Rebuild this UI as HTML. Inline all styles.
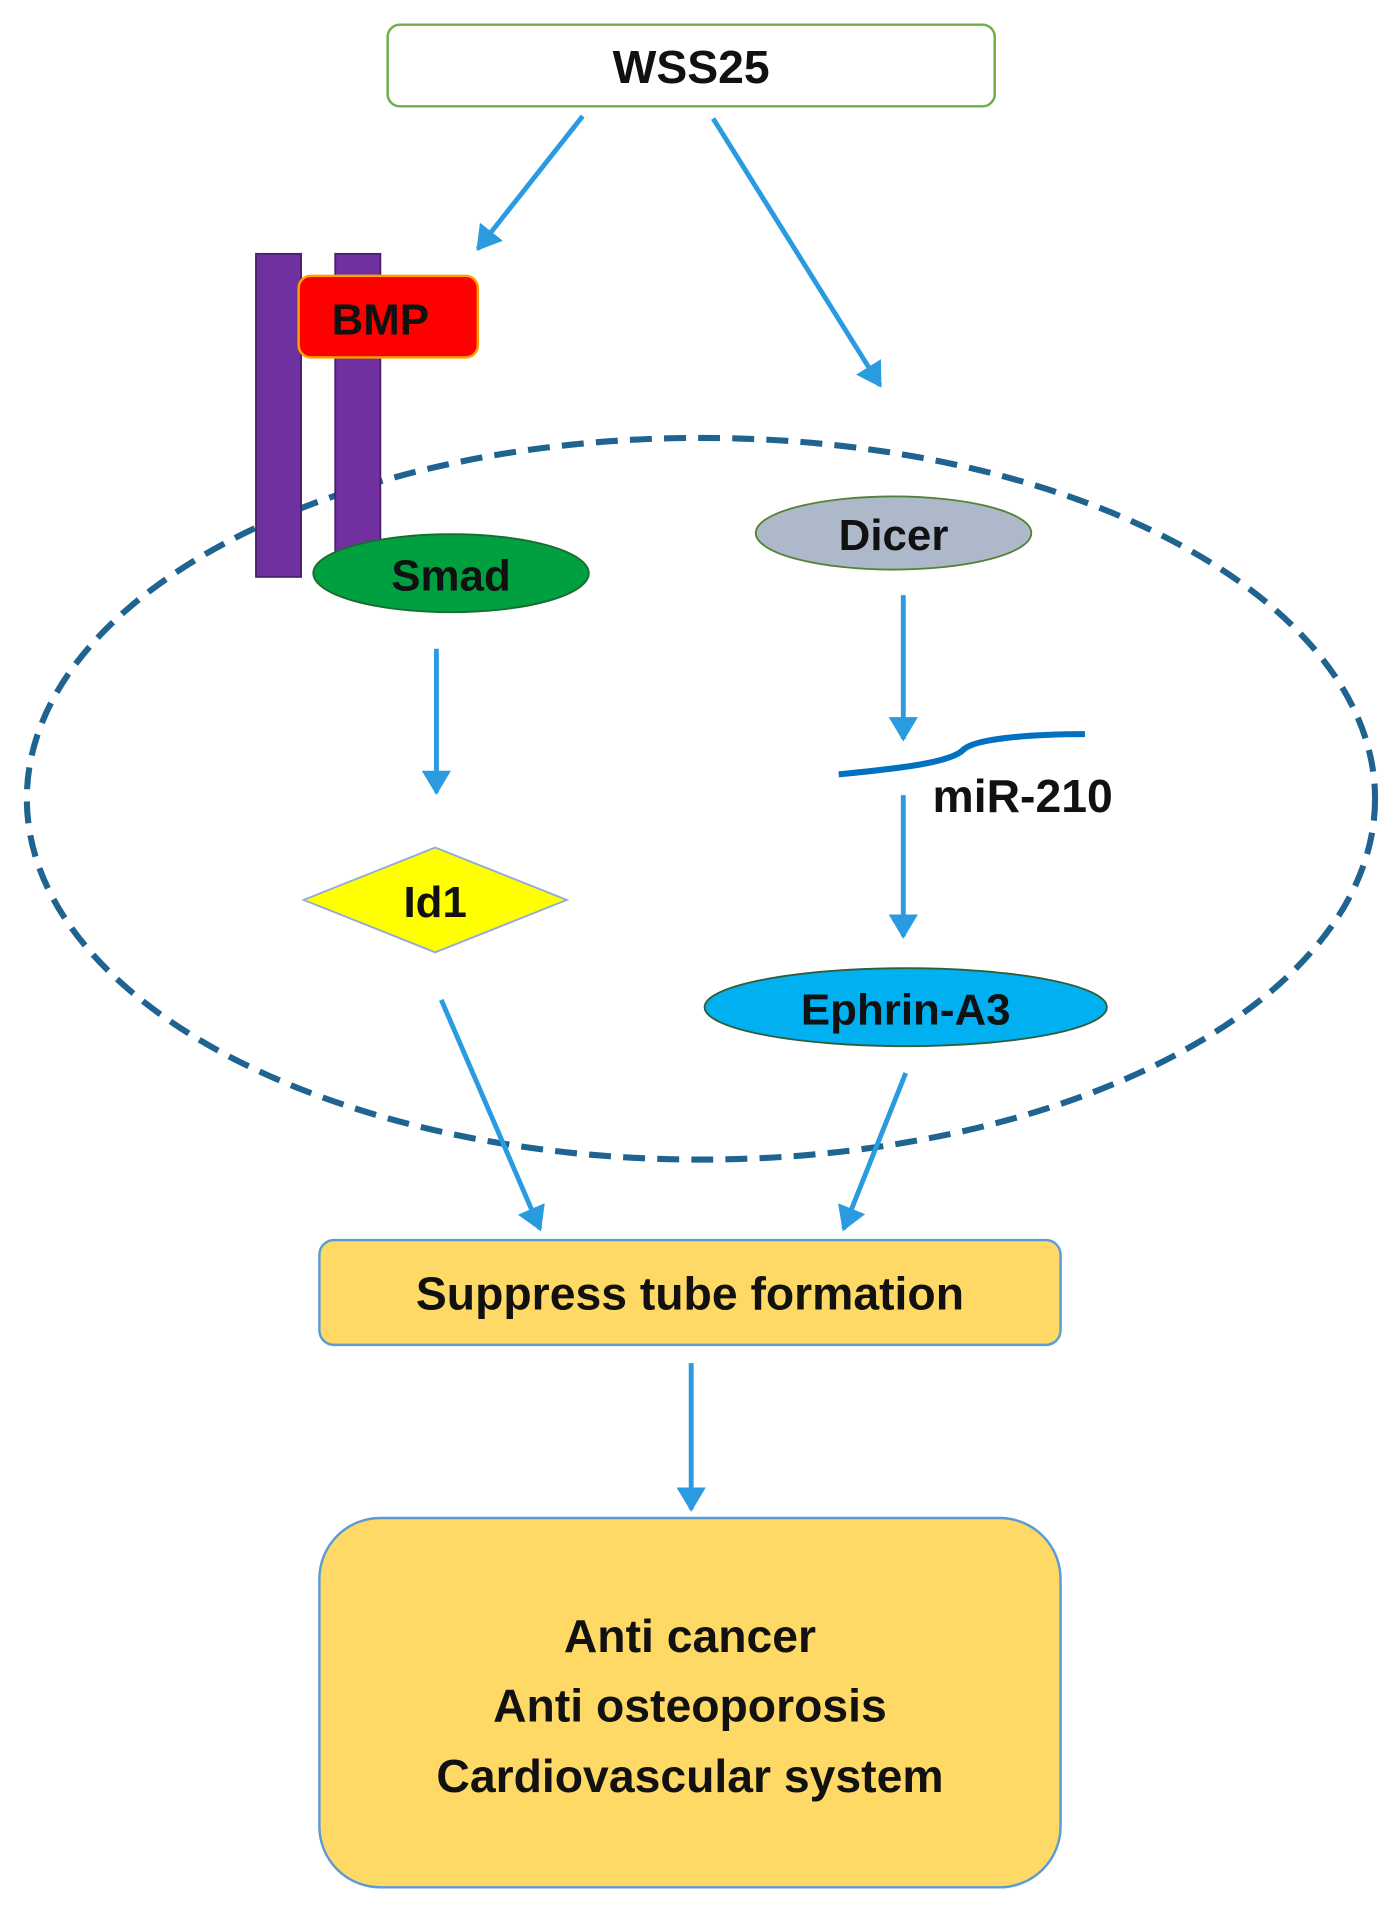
<!DOCTYPE html>
<html><head><meta charset="utf-8"><style>
html,body{margin:0;padding:0;background:#fff;}
svg{display:block;}
text{font-family:"Liberation Sans",sans-serif;font-weight:bold;fill:#111;}
</style></head><body>
<svg width="1397" height="1912" viewBox="0 0 1146 1568" xmlns="http://www.w3.org/2000/svg">
<defs>
<marker id="a" markerWidth="6" markerHeight="6" refX="4.5" refY="3" orient="auto" markerUnits="strokeWidth">
<path d="M0,0 L5,3 L0,6 Z" fill="#2a9be0"/>
</marker>
</defs>
<ellipse cx="575" cy="655" rx="553" ry="296" fill="none" stroke="#1f6391" stroke-width="5" stroke-dasharray="18 10"/>
<g stroke="#2a9be0" stroke-width="4" fill="none" marker-end="url(#a)">
<line x1="478" y1="95" x2="392" y2="204"/>
<line x1="585" y1="97" x2="722" y2="316"/>
<line x1="358" y1="532" x2="358" y2="650"/>
<line x1="741" y1="488" x2="741" y2="606"/>
<line x1="741" y1="652" x2="741" y2="768"/>
<line x1="362" y1="820" x2="443" y2="1008"/>
<line x1="743" y1="880" x2="692" y2="1008"/>
<line x1="567" y1="1118" x2="567" y2="1238"/>
</g>
<rect x="318" y="20" width="498" height="67" rx="10" fill="#fff" stroke="#70ad47" stroke-width="2"/>
<text x="567" y="68" font-size="38" text-anchor="middle">WSS25</text>
<rect x="210" y="208" width="37" height="265" fill="#7030a0" stroke="#4a1f6e" stroke-width="1.5"/>
<rect x="275" y="208" width="37" height="250" fill="#7030a0" stroke="#4a1f6e" stroke-width="1.5"/>
<rect x="245" y="226" width="147" height="67" rx="10" fill="#ff0000" stroke="#ffa000" stroke-width="2"/>
<text x="312" y="274" font-size="36" text-anchor="middle">BMP</text>
<ellipse cx="370" cy="470" rx="113" ry="32" fill="#00a040" stroke="#1a6b30" stroke-width="1.5"/>
<text x="370" y="484" font-size="36" text-anchor="middle">Smad</text>
<ellipse cx="733" cy="437" rx="113" ry="30" fill="#adb9ca" stroke="#548235" stroke-width="1.5"/>
<text x="733" y="451" font-size="36" text-anchor="middle">Dicer</text>
<polygon points="249,738 357,695 465,738 357,781" fill="#ffff00" stroke="#8faadc" stroke-width="1.5"/>
<text x="357" y="752" font-size="36" text-anchor="middle">Id1</text>
<path d="M688,635 C740,630 780,625 790,615 C800,605 850,602 890,602" fill="none" stroke="#0070c0" stroke-width="5"/>
<text x="765" y="666" font-size="38">miR-210</text>
<ellipse cx="743" cy="826" rx="165" ry="32" fill="#00b0f0" stroke="#2e5e3a" stroke-width="1.5"/>
<text x="743" y="840" font-size="36" text-anchor="middle">Ephrin-A3</text>
<rect x="262" y="1017" width="608" height="86" rx="12" fill="#ffd966" stroke="#5b9bd5" stroke-width="2"/>
<text x="566" y="1074" font-size="38" text-anchor="middle">Suppress tube formation</text>
<rect x="262" y="1245" width="608" height="303" rx="50" fill="#ffd966" stroke="#5b9bd5" stroke-width="2"/>
<text x="566" y="1355" font-size="38" text-anchor="middle">Anti cancer</text>
<text x="566" y="1412" font-size="38" text-anchor="middle">Anti osteoporosis</text>
<text x="566" y="1470" font-size="38" text-anchor="middle">Cardiovascular system</text>
</svg>
</body></html>
